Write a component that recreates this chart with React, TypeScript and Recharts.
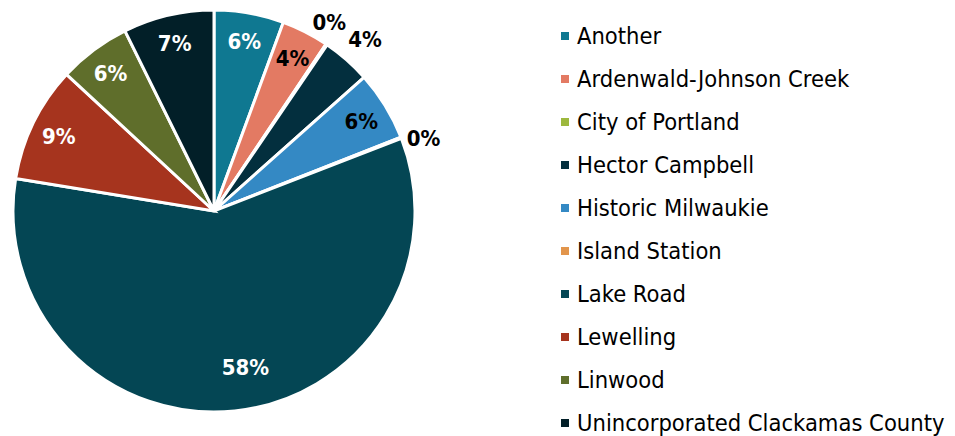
import React from "react";
import { PieChart, Pie, Cell, Legend } from "recharts";

const categories = [
  "Another",
  "Ardenwald-Johnson Creek",
  "City of Portland",
  "Hector Campbell",
  "Historic Milwaukie",
  "Island Station",
  "Lake Road",
  "Lewelling",
  "Linwood",
  "Unincorporated Clackamas County",
];
const shares = [5.6, 3.8, 0.1, 3.9, 5.6, 0.1, 58.4, 9.3, 5.8, 7.3];
const colors = [
  "#0F7891",
  "#E37A63",
  "#9DB83E",
  "#032F3E",
  "#3489C4",
  "#E2954C",
  "#044654",
  "#A6341E",
  "#5F6E2B",
  "#021F28",
];
const labelColors = ["#fff", "#000", "#000", "#000", "#000", "#000", "#fff", "#fff", "#fff", "#fff"];
const outsideLabels = ["City of Portland", "Hector Campbell", "Island Station"];
// small angular nudges (degrees) so that labels of adjacent thin slices don't collide
const labelAngleNudge: Record<string, number> = {
  "City of Portland": 2.8,
  "Island Station": -2.0,
  "Lake Road": 5.5,
};

const data = categories.map((name, i) => ({ name, value: shares[i] }));

const FONT = "'DejaVu Sans Condensed', 'DejaVu Sans', sans-serif";
const RAD = Math.PI / 180;

const renderLabel = (props: any) => {
  const { cx, cy, midAngle, outerRadius, percent, index, value } = props;
  const name = categories[index];
  const outside = outsideLabels.includes(name);
  const angle = midAngle + (labelAngleNudge[name] || 0);
  let r = outerRadius * 0.86;
  if (name === "Lake Road") r = outerRadius * 0.79;
  if (outside) {
    r = value < 1 ? outerRadius + 21 : outerRadius + 28;
  }
  const x = cx + r * Math.cos(-angle * RAD);
  const y = cy + r * Math.sin(-angle * RAD) + 1;
  return (
    <text
      key={`l-${index}`}
      x={x}
      y={y}
      textAnchor="middle"
      dominantBaseline="central"
      fill={outside ? "#000" : labelColors[index]}
      fontFamily={FONT}
      fontWeight="bold"
      fontSize={22}
    >
      {`${Math.round(percent * 100)}%`}
    </text>
  );
};

const renderLegend = () => (
  <div style={{ fontFamily: FONT, fontSize: 23.5, color: "#000" }}>
    {categories.map((c, i) => (
      <div key={c} style={{ height: 43, display: "flex", alignItems: "center" }}>
        <span
          style={{
            display: "inline-block",
            width: 8,
            height: 8,
            background: colors[i],
            marginRight: 8,
          }}
        />
        <span style={{ whiteSpace: "nowrap" }}>{c}</span>
      </div>
    ))}
  </div>
);

export default function App() {
  return (
    <div style={{ position: "absolute", left: 0, top: 0, background: "#fff" }}>
      <PieChart width={955} height={436} margin={{ top: 0, right: 0, bottom: 0, left: 0 }}>
        <Pie
          data={data}
          dataKey="value"
          nameKey="name"
          cx={214}
          cy={211}
          outerRadius={201}
          startAngle={90}
          endAngle={-270}
          stroke="#fff"
          strokeWidth={3}
          label={renderLabel}
          labelLine={false}
          isAnimationActive={false}
        >
          {data.map((d, i) => (
            <Cell key={d.name} fill={colors[i]} />
          ))}
        </Pie>
        <Legend
          layout="vertical"
          align="right"
          verticalAlign="top"
          content={renderLegend}
          wrapperStyle={{ left: 561, top: 14, width: 394 }}
        />
      </PieChart>
    </div>
  );
}
